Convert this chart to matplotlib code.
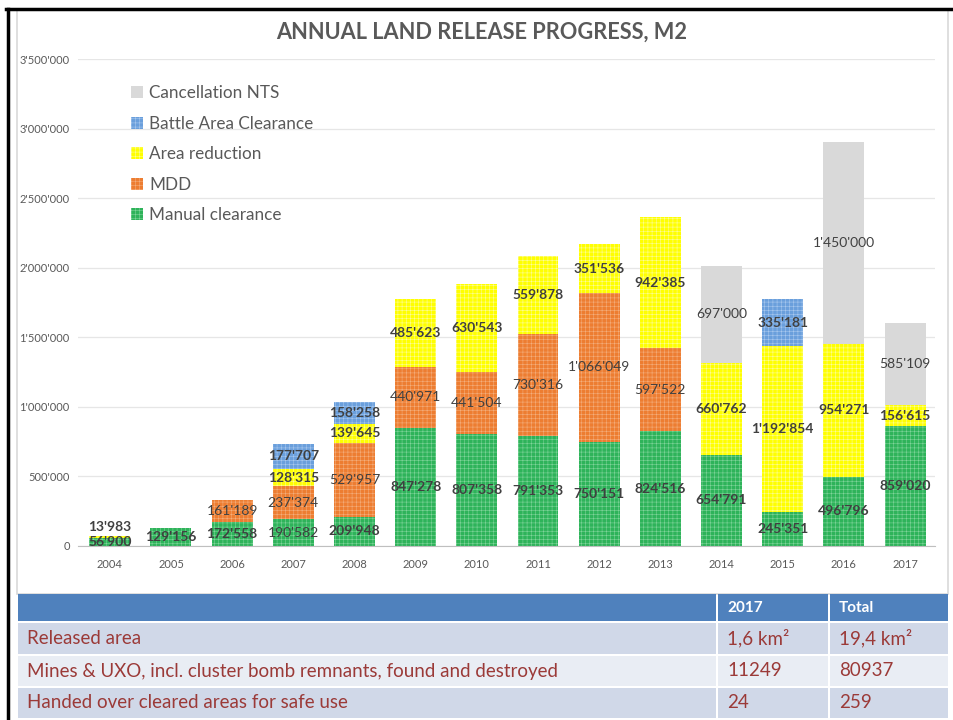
import matplotlib
matplotlib.use('Agg')
import matplotlib.pyplot as plt
from matplotlib.patches import Rectangle, Patch
from matplotlib.lines import Line2D
from matplotlib import font_manager
import numpy as np

years = ['2004', '2005', '2006', '2007', '2008', '2009', '2010',
         '2011', '2012', '2013', '2014', '2015', '2016', '2017']
manual = [56900, 129156, 172558, 190582, 209948, 847278, 807358,
          791353, 750151, 824516, 654791, 245351, 496796, 859020]
mdd = [0, 0, 161189, 237374, 529957, 440971, 441504,
       730316, 1066049, 597522, 0, 0, 0, 0]
area_red = [13983, 0, 0, 128315, 139645, 485623, 630543,
            559878, 351536, 942385, 660762, 1192854, 954271, 156615]
bac = [0, 0, 0, 177707, 158258, 0, 0, 0, 0, 0, 0, 335181, 0, 0]
nts = [0, 0, 0, 0, 0, 0, 0, 0, 0, 0, 697000, 0, 1450000, 585109]

series_names = ['Manual clearance', 'MDD', 'Area reduction',
                'Battle Area Clearance', 'Cancellation NTS']

table_header = ['', '2017', 'Total']
table_rows = [
    ['Released area', '1,6 km²', '19,4 km²'],
    ['Mines & UXO, incl. cluster bomb remnants, found and destroyed', '11249', '80937'],
    ['Handed over cleared areas for safe use', '24', '259'],
]

W, H = 954, 720
names = {f.name for f in font_manager.fontManager.ttflist}
base_font = 'Lato' if 'Lato' in names else 'DejaVu Sans'
table_font = 'Liberation Sans Narrow' if 'Liberation Sans Narrow' in names else base_font
plt.rcParams['font.family'] = [base_font, 'DejaVu Sans']
plt.rcParams['hatch.linewidth'] = 0.4


def fx(px):
    return px / W


def fy(py):
    return 1 - py / H


def fmt(v):
    return f"{int(v):,}".replace(',', "'")


fig = plt.figure(figsize=(9.54, 7.2), dpi=100)

# outer frame and chart box
fig.add_artist(Rectangle((fx(17), fy(594)), fx(948) - fx(17), fy(10) - fy(594),
                         transform=fig.transFigure, fill=False, ec='#d9d9d9', lw=1.2))
fig.add_artist(Line2D([fx(6), 1], [fy(8.5), fy(8.5)], transform=fig.transFigure, color='black', lw=2.5))
fig.add_artist(Line2D([fx(8), fx(8)], [0, fy(8.5)], transform=fig.transFigure, color='black', lw=2.5))

ax = fig.add_axes([fx(78), fy(546), fx(935) - fx(78), fy(59) - fy(546)])

x = np.arange(len(years))
width = 0.67
styles = [
    (manual, '#2eb35a', '#7fd49a', '++++'),
    (mdd, '#ed7d31', '#f4ae7c', '++++'),
    (area_red, '#ffff00', '#fdfd9a', '++++'),
    (bac, '#6a9fdc', '#a8c8ee', '++++'),
    (nts, '#d9d9d9', '#d9d9d9', None),
]
bold_flags = [
    [True, True, True, False, True, True, True, True, True, True, True, True, True, True],
    [False] * 14,
    [True] * 14,
    [True] * 14,
    [False] * 14,
]

bottom = np.zeros(len(years))
handles = []
for (vals, col, hc, hatch), name, bolds in zip(styles, series_names, bold_flags):
    vals = np.array(vals, dtype=float)
    ax.bar(x, vals, width, bottom=bottom, color=col, edgecolor=hc, linewidth=0,
           hatch=hatch, zorder=2)
    handles.append(Patch(facecolor=col, edgecolor=hc, linewidth=0, hatch=hatch, label=name))
    for i, v in enumerate(vals):
        if v <= 0:
            continue
        if v < 40000 and bottom[i] > 0:
            ax.annotate(fmt(v), (x[i], bottom[i] + v), xytext=(0, 2), textcoords='offset points',
                        ha='center', va='bottom', fontsize=10, color='#404040',
                        fontweight='bold' if bolds[i] else 'normal', zorder=3)
        else:
            ax.text(x[i], bottom[i] + v / 2, fmt(v), ha='center', va='center', fontsize=10,
                    color='#404040', fontweight='bold' if bolds[i] else 'normal', zorder=3)
    bottom += vals

ax.set_xlim(-0.52, 13.49)
ax.set_ylim(0, 3500000)
ax.set_yticks(np.arange(0, 3500001, 500000))
ax.set_yticklabels([fmt(v) for v in np.arange(0, 3500001, 500000)])
ax.set_xticks(x)
ax.set_xticklabels(years)
ax.tick_params(axis='both', length=0, labelsize=8, labelcolor='#595959')
ax.tick_params(axis='y', pad=6)
ax.tick_params(axis='x', pad=9)
ax.grid(axis='y', color='#e6e6e6', lw=0.9, zorder=0)
for s in ['top', 'right', 'left']:
    ax.spines[s].set_visible(False)
ax.spines['bottom'].set_color('#bfbfbf')
ax.set_axisbelow(True)

leg = ax.legend(handles=handles[::-1], loc='upper left', bbox_to_anchor=(0.044, 0.978),
                frameon=False, fontsize=12.3, labelspacing=0.85, handlelength=0.7,
                handleheight=0.7, handletextpad=0.35)
for t in leg.get_texts():
    t.set_color('#595959')

fig.text(fx(482), fy(32), 'ANNUAL LAND RELEASE PROGRESS, M2', ha='center', va='center',
         fontsize=15.7, fontweight='bold', color='#595959')

# table below the chart
col_edges = [18, 718, 830, 950]
row_edges = [(594, 621), (623, 654), (656, 686), (688, 718)]
row_colors = ['#4f81bd', '#d0d8e8', '#e9edf4', '#d0d8e8']
all_rows = [table_header] + table_rows
for r, ((y0, y1), rc, cells) in enumerate(zip(row_edges, row_colors, all_rows)):
    for c in range(3):
        x0, x1 = col_edges[c], col_edges[c + 1] - 2
        fig.add_artist(Rectangle((fx(x0), fy(y1)), fx(x1) - fx(x0), fy(y0) - fy(y1),
                                 transform=fig.transFigure, color=rc, lw=0))
        txt = cells[c]
        if not txt:
            continue
        fig.text(fx(x0 + 9), fy((y0 + y1) / 2), txt, ha='left', va='center',
                 family=[table_font, 'DejaVu Sans'],
                 fontsize=11 if r == 0 else 13.5,
                 fontweight='bold' if r == 0 else 'normal',
                 color='white' if r == 0 else '#9b3a38')

fig.savefig('out.png', dpi=100)
